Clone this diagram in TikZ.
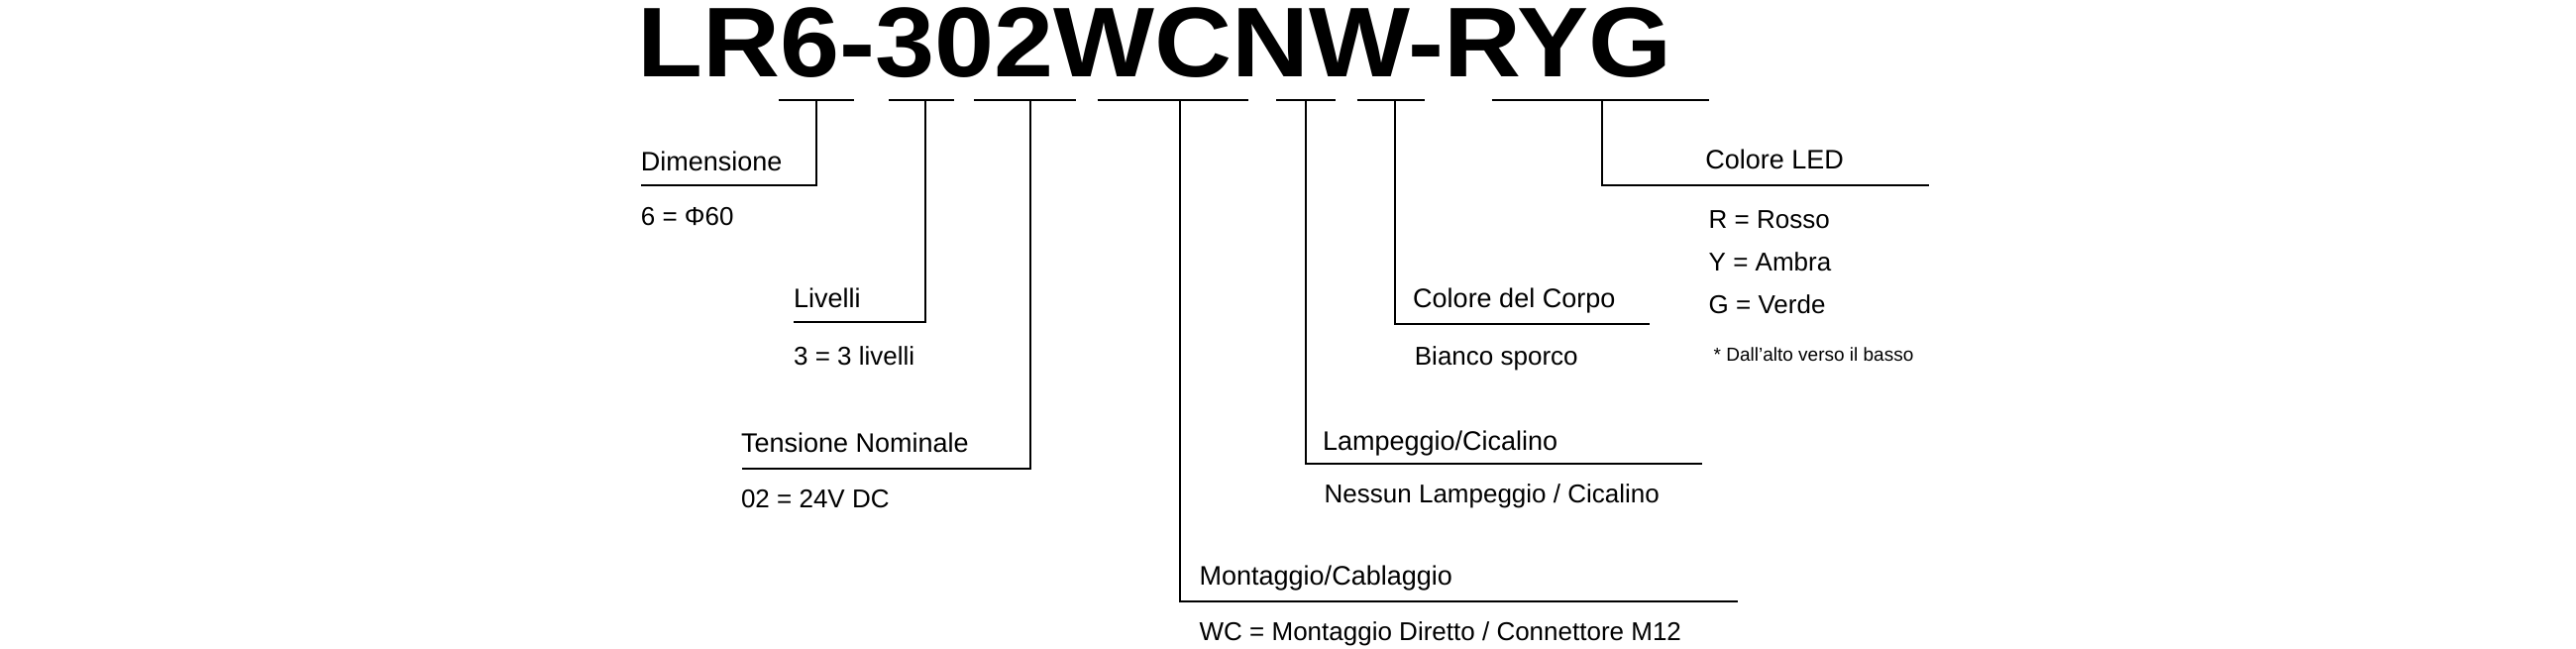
\documentclass[tikz,border=0pt]{standalone}
\usepackage{fontspec}
\setmainfont{Liberation Sans}
\begin{document}
\begin{tikzpicture}[x=1.658pt,y=-1.658pt,
  ln/.style={line width=2pt},
  hd/.style={anchor=base west,inner sep=0pt,font=\fontsize{27}{30}\selectfont},
  vl/.style={anchor=base west,inner sep=0pt,font=\fontsize{26}{30}\selectfont},
  nt/.style={anchor=base west,inner sep=0pt,font=\fontsize{19}{22}\selectfont}]
\useasboundingbox (0,0) rectangle (1568,395);
\node[anchor=base west,inner sep=0pt,font=\fontsize{100}{110}\selectfont\bfseries] (title) at (388,47) {\scalebox{1.08}[1]{LR6-302WCNW-RYG}};
% label nodes
\node[hd] (dim) at (390,104) {Dimensione};
\node[vl] (dimv) at (390,137) {6 = Φ60};
\node[hd] (liv) at (483,187) {Livelli};
\node[vl] (livv) at (483,222) {3 = 3 livelli};
\node[hd] (ten) at (451,275) {Tensione Nominale};
\node[vl] (tenv) at (451,309) {02 = 24V DC};
\node[hd] (mon) at (730,356) {Montaggio/Cablaggio};
\node[vl] (monv) at (730,390) {WC = Montaggio Diretto / Connettore M12};
\node[hd] (lam) at (805,274) {Lampeggio/Cicalino};
\node[vl] (lamv) at (806,306) {Nessun Lampeggio / Cicalino};
\node[hd] (cor) at (860,187) {Colore del Corpo};
\node[vl] (corv) at (861,222) {Bianco sporco};
\node[hd] (led) at (1038,103) {Colore LED};
\node[vl] (r) at (1040,139) {R = Rosso};
\node[vl] (y) at (1040,165) {Y = Ambra};
\node[vl] (g) at (1040,191) {G = Verde};
\node[nt] (note) at (1043,220) {* Dall'alto verso il basso};
% connectors
\coordinate (a1) at (474,61); \coordinate (a2) at (520,61);
\draw[ln] (a1) -- (a2);
\draw[ln] (497,61) -- (497,113) -- (390,113);
\draw[ln] (541,61) -- (581,61);
\draw[ln] (563,61) -- (563,196) -- (483,196);
\draw[ln] (593,61) -- (655,61);
\draw[ln] (627,61) -- (627,285) -- (452,285);
\draw[ln] (668,61) -- (760,61);
\draw[ln] (718,61) -- (718,366) -- (1058,366);
\draw[ln] (777,61) -- (813,61);
\draw[ln] (795,61) -- (795,282) -- (1036,282);
\draw[ln] (826,61) -- (867,61);
\draw[ln] (849,61) -- (849,197) -- (1004,197);
\draw[ln] (908,61) -- (1040,61);
\draw[ln] (975,61) -- (975,113) -- (1174,113);
\end{tikzpicture}
\end{document}
